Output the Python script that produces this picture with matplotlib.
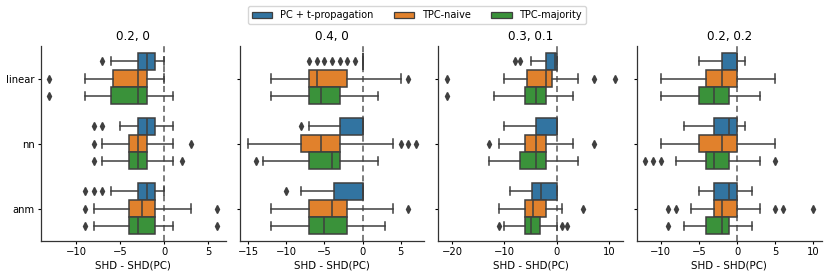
import matplotlib
matplotlib.use("Agg")
import matplotlib.pyplot as plt
from matplotlib.patches import Patch

TITLES = ["0.2, 0", "0.4, 0", "0.3, 0.1", "0.2, 0.2"]
CATEGORIES = ["linear", "nn", "anm"]
SERIES = ["PC + t-propagation", "TPC-naive", "TPC-majority"]
COLORS = ["#3274a1", "#e1812c", "#3a923a"]

# [panel][category][series]
WHISKER_LO = [
    [[-6, -9, -9], [-5, -7, -7], [-6, -8, -8]],
    [[0, -12, -12], [-7, -15, -13], [-8, -12, -12]],
    [[-5, -10, -12], [-10, -11, -13], [-9, -11, -10]],
    [[-5, -10, -10], [-7, -10, -8], [-5, -6, -7]],
]
Q1 = [
    [[-3, -5.75, -6], [-3, -4, -4], [-3, -4, -4]],
    [[0, -7, -7], [-3, -8, -7], [-3.75, -7, -7]],
    [[-2, -5.75, -6], [-4, -6, -7], [-4.75, -6, -6]],
    [[-2, -4, -5], [-3, -5, -4], [-3, -3, -4]],
]
MEDIAN = [
    [[-2, -3, -3], [-2, -3, -3], [-2, -2.5, -3]],
    [[0, -6, -5.5], [0, -5.5, -4], [0, -4, -5]],
    [[-0.4, -2, -4], [0, -4, -4], [-3, -4.5, -5]],
    [[0, -2, -3], [-1, -2, -3], [-1, -2, -2]],
]
Q3 = [
    [[-1, -2, -2], [-1, -2, -2], [-1, -1, -1]],
    [[0, -2, -3], [0, -3, -3], [0, -2, -2]],
    [[0, -1, -2], [0, -2, -2], [0, -2, -3.25]],
    [[0, 0, -1], [0, 0, -1], [0, 0, -1]],
]
WHISKER_HI = [
    [[0, 0, 1], [1, 1, 1], [0, 3, 1]],
    [[0, 5, 2], [0, 4, 2], [0, 4, 3]],
    [[0, 4, 3], [0, 3, 4], [0, 1, 0]],
    [[1, 5, 3], [1, 5, 3], [2, 3, 2]],
]
FLIERS = [
    [[[-7], [-13], [-13]], [[-8, -7], [-8, 3], [-8, 2]], [[-9, -8, -7], [-9, 6], [-9, 6]]],
    [[[-7, -6, -5, -4, -3, -2, -1], [6], []], [[-8], [5, 6, 7], [-14]], [[-10], [6], []]],
    [[[-8, -7], [-21, 7, 11], [-21]], [[], [-13, 7], []], [[], [5], [-11, 1, 2]]],
    [[[], [], []], [[], [], [-12, -11, -10, 5]], [[], [-9, -8, 5, 6, 10], [-9]]],
]

GRAY = "#3f3f3f"
LW = 1.1
FS_TICK = 7.2

fig, axes = plt.subplots(1, 4, figsize=(8.3, 2.79), dpi=100, sharey=True)
fig.subplots_adjust(left=0.0494, right=0.990, bottom=0.136, top=0.835, wspace=0.076)

n_hue = len(SERIES)
box_w = 0.8 / n_hue

for p, ax in enumerate(axes):
    ax.axvline(0, color="0.35", ls=(0, (4, 2.5)), lw=LW, zorder=0.5)
    for i, cat in enumerate(CATEGORIES):
        for j in range(n_hue):
            stats = [dict(
                whislo=WHISKER_LO[p][i][j], q1=Q1[p][i][j], med=MEDIAN[p][i][j],
                q3=Q3[p][i][j], whishi=WHISKER_HI[p][i][j],
                fliers=FLIERS[p][i][j],
            )]
            pos = i + (j - (n_hue - 1) / 2) * box_w
            ax.bxp(stats, positions=[pos], widths=[box_w * 0.98],
                   orientation="horizontal", patch_artist=True, manage_ticks=False,
                   boxprops=dict(facecolor=COLORS[j], edgecolor=GRAY, linewidth=LW),
                   medianprops=dict(color=GRAY, linewidth=LW),
                   whiskerprops=dict(color=GRAY, linewidth=LW),
                   capprops=dict(color=GRAY, linewidth=LW),
                   flierprops=dict(marker="d", markerfacecolor=GRAY, markeredgecolor=GRAY,
                                   markersize=3.6, linestyle="none"))
    ax.set_title(TITLES[p], fontsize=8.6, pad=4)
    ax.set_xlabel("SHD - SHD(PC)", fontsize=7.4, labelpad=2)
    ax.spines["top"].set_visible(False)
    ax.spines["right"].set_visible(False)
    for s in ("left", "bottom"):
        ax.spines[s].set_linewidth(0.9)
        ax.spines[s].set_color("#333333")
    ax.tick_params(labelsize=FS_TICK, length=2.5, width=0.8, pad=2)
    ax.autoscale(axis="x")
    ax.margins(x=0.05)

axes[0].set_yticks(range(len(CATEGORIES)))
axes[0].set_yticklabels(CATEGORIES)
axes[0].set_ylim(len(CATEGORIES) - 0.5, -0.5)
for ax in axes[1:]:
    ax.tick_params(labelleft=False)

handles = [Patch(facecolor=c, edgecolor=GRAY, linewidth=0.9, label=s) for c, s in zip(COLORS, SERIES)]
fig.legend(handles=handles, loc="upper center", bbox_to_anchor=(0.5024, 0.978), ncol=3,
           fontsize=7.0, frameon=True, handlelength=2.1, handleheight=0.6,
           columnspacing=2.1, borderpad=0.4, handletextpad=0.8, borderaxespad=0)

fig.savefig("out.png", dpi=100)
